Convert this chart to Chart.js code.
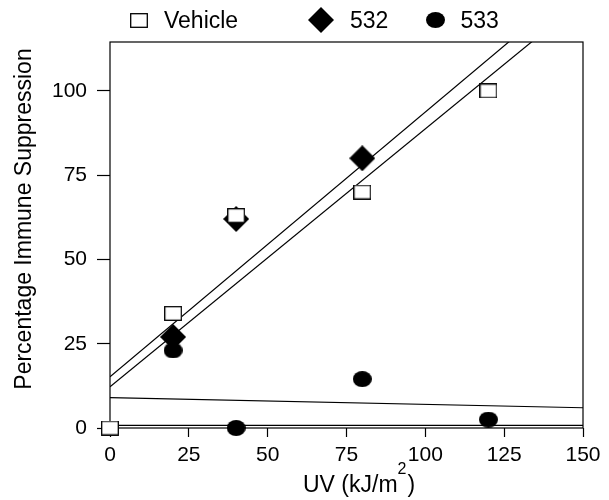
<!DOCTYPE html>
<html lang="en">
<head>
    <meta charset="UTF-8">
    <title>Percentage Immune Suppression vs UV</title>
    <style>
        body { margin: 0; background: #fff; }
        canvas { display: block; }
    </style>
</head>
<body>
    <canvas id="uvChart" width="609" height="500"></canvas>

    <script src="https://cdn.jsdelivr.net/npm/chart.js"></script>
    <script>
    // Data
    const uvVehicle = [0, 20, 40, 80, 120];
    const suppVehicle = [0, 34, 63, 70, 100];
    const uv532 = [20, 40, 80];
    const supp532 = [27, 62, 80];
    const uv533 = [20, 40, 80, 120];
    const supp533 = [23, 0, 14.5, 2.5];

    // Fitted lines (ends at UV 0 and 150)
    const fitUV = [0, 150];
    const fitVehicle = [15.2, 133];
    const fit532 = [12.2, 127];
    const fit533 = [9.0, 6.0];
    const fitBase = [0.8, 0.8];

    const xTicks = [0, 25, 50, 75, 100, 125, 150];
    const yTicks = [0, 25, 50, 75, 100];

    const xTitle = 'UV (kJ/m';
    const xTitleSup = '2';
    const yTitle = 'Percentage Immune Suppression';

    const FONT = '"Liberation Sans", Arial, sans-serif';

    function points(xs, ys) {
        return xs.map((x, i) => ({ x: x, y: ys[i] }));
    }

    // marker images
    function marker(w, h, draw) {
        const c = document.createElement('canvas');
        c.width = w;
        c.height = h;
        draw(c.getContext('2d'), w, h);
        return c;
    }
    const squareMark = marker(18, 15, (ctx, w, h) => {
        ctx.fillStyle = '#fff';
        ctx.fillRect(0.5, 0.5, w - 1, h - 1);
        ctx.strokeStyle = '#000';
        ctx.lineWidth = 1.3;
        ctx.strokeRect(0.7, 0.7, w - 1.4, h - 1.4);
    });
    const diamondMark = marker(26, 26, (ctx, w, h) => {
        ctx.fillStyle = '#000';
        ctx.beginPath();
        ctx.moveTo(w / 2, 0);
        ctx.lineTo(w, h / 2);
        ctx.lineTo(w / 2, h);
        ctx.lineTo(0, h / 2);
        ctx.closePath();
        ctx.fill();
    });
    const ovalMark = marker(19, 16, (ctx, w, h) => {
        ctx.fillStyle = '#000';
        ctx.beginPath();
        ctx.ellipse(w / 2, h / 2, w / 2, h / 2, 0, 0, Math.PI * 2);
        ctx.fill();
    });

    function series(label, xs, ys, mark) {
        return { label: label, data: points(xs, ys), pointStyle: mark, clip: false };
    }

    function fitLine(ys) {
        return {
            data: points(fitUV, ys),
            showLine: true,
            borderColor: '#000',
            borderWidth: 1.2,
            pointRadius: 0,
            pointHoverRadius: 0
        };
    }

    // frame round the plot area, under the markers
    const frame = {
        id: 'frame',
        beforeDatasetsDraw(chart) {
            const a = chart.chartArea;
            const ctx = chart.ctx;
            ctx.save();
            ctx.strokeStyle = '#000';
            ctx.lineWidth = 1.2;
            ctx.strokeRect(a.left, a.top, a.right - a.left, a.bottom - a.top);
            ctx.restore();
        }
    };

    // legend row above the plot and the two axis titles
    const legendSpots = [139, 321, 435];
    const labelsPlugin = {
        id: 'labels',
        afterDraw(chart) {
            const ctx = chart.ctx;
            ctx.save();
            ctx.fillStyle = '#000';
            ctx.textBaseline = 'middle';
            ctx.font = '23px ' + FONT;
            chart.data.datasets.slice(0, 3).forEach((ds, i) => {
                const img = ds.pointStyle;
                const cx = legendSpots[i];
                ctx.drawImage(img, Math.round(cx - img.width / 2), Math.round(20 - img.height / 2));
                ctx.fillText(ds.label, cx + img.width / 2 + 16, 22);
            });

            // x title with superscript
            ctx.textBaseline = 'alphabetic';
            ctx.font = '23px ' + FONT;
            const x0 = 303;
            ctx.fillText(xTitle, x0, 492);
            let w = ctx.measureText(xTitle).width;
            ctx.font = '16px ' + FONT;
            ctx.fillText(xTitleSup, x0 + w, 474);
            w += ctx.measureText(xTitleSup).width;
            ctx.font = '23px ' + FONT;
            ctx.fillText(')', x0 + w + 1, 492);

            // y title
            ctx.translate(25, 219);
            ctx.rotate(-Math.PI / 2);
            ctx.textAlign = 'center';
            ctx.textBaseline = 'middle';
            ctx.fillText(yTitle, 0, 0);
            ctx.restore();
        }
    };

    const tickFont = { family: FONT, size: 21 };

    new Chart(document.getElementById('uvChart'), {
        type: 'scatter',
        data: {
            datasets: [
                series('Vehicle', uvVehicle, suppVehicle, squareMark),
                series('532', uv532, supp532, diamondMark),
                series('533', uv533, supp533, ovalMark),
                fitLine(fitVehicle),
                fitLine(fit532),
                fitLine(fit533),
                fitLine(fitBase)
            ]
        },
        options: {
            responsive: false,
            animation: false,
            layout: { padding: { left: 0, right: 26, top: 42, bottom: 0 } },
            plugins: {
                tooltip: { enabled: false },
                legend: { display: false }
            },
            scales: {
                x: {
                    type: 'linear',
                    min: 0,
                    max: 150,
                    afterFit: s => { s.height = 72; },
                    afterBuildTicks: s => { s.ticks = xTicks.map(v => ({ value: v })); },
                    border: { display: false },
                    grid: { drawOnChartArea: false, color: '#000', tickLength: 9, tickWidth: 1.2 },
                    ticks: { color: '#000', font: tickFont, padding: 6, maxRotation: 0 }
                },
                y: {
                    type: 'linear',
                    min: 0,
                    max: 114.5,
                    afterFit: s => { s.width = 110; },
                    afterBuildTicks: s => { s.ticks = yTicks.map(v => ({ value: v })); },
                    border: { display: false },
                    grid: { drawOnChartArea: false, color: '#000', tickLength: 13, tickWidth: 1.2 },
                    ticks: { color: '#000', font: tickFont, padding: 10 }
                }
            }
        },
        plugins: [frame, labelsPlugin]
    });
    </script>
</body>
</html>
